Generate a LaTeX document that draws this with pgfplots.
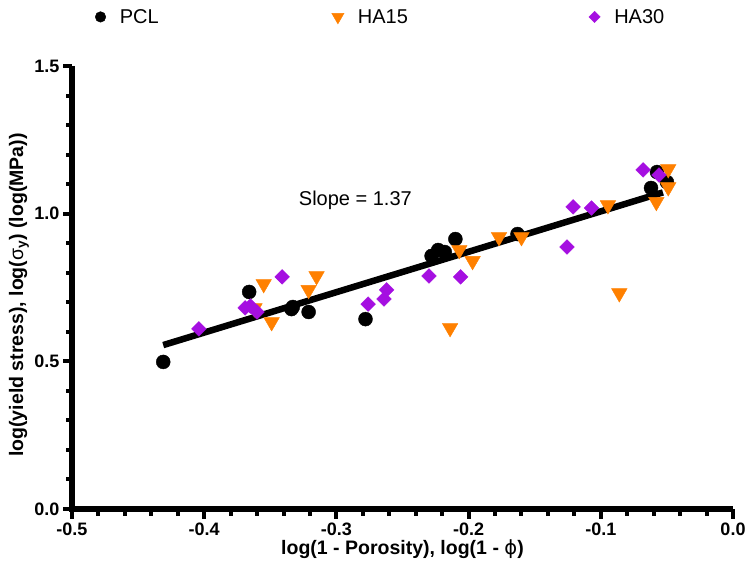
\documentclass[border=0pt]{standalone}
\usepackage{pgfplots}
\pgfplotsset{compat=1.18}
\usetikzlibrary{calc}
\usepackage{fontspec}
\setmainfont{Liberation Sans}
\newfontfamily\dvfont{DejaVu Sans}
\definecolor{ha15}{RGB}{255,128,0}
\definecolor{ha30}{RGB}{165,15,225}
\begin{document}
\begin{tikzpicture}
\begin{axis}[
  scale only axis, width=661pt, height=443pt,
  xmin=-0.5, xmax=0, ymin=0, ymax=1.5,
  axis x line*=bottom, axis y line*=left,
  axis line style={draw=black, -},
  xtick={-0.5,-0.4,-0.3,-0.2,-0.1,0},
  ytick={0,0.5,1,1.5},
  minor x tick num=4, minor y tick num=4,
  tick align=outside,
  major tick length=9pt, minor tick length=6pt,
  tick style={black},
  /pgf/number format/assume math mode=true,
  xticklabel style={/pgf/number format/fixed, /pgf/number format/fixed zerofill, /pgf/number format/precision=1, yshift=-1pt},
  yticklabel style={/pgf/number format/fixed, /pgf/number format/fixed zerofill, /pgf/number format/precision=1},
  tick label style={font=\fontsize{18}{21}\selectfont\bfseries},
  label style={font=\fontsize{19.5}{23}\selectfont\bfseries},
  xlabel={log(1 - Porosity), log(1 - {\dvfont\mdseries ϕ})},
  ylabel={log(yield stress), log({\mdseries σ}\textsubscript{y}) (log(MPa))},
  xlabel style={at={(axis description cs:0.5,-0.0903)}, anchor=center},
  ylabel style={at={(axis description cs:-0.0802,0.483)}, anchor=center, rotate=0},
  legend columns=3,
  legend style={draw=none, fill=none, at={(axis description cs:0.0303,1.1377)}, anchor=north west,
    font=\fontsize{20}{23}\selectfont,
    /tikz/every odd column/.style={column sep=12pt},
    /tikz/every even column/.style={column sep=0pt}},
  clip=false,
]
\addplot[black, line width=6.5pt, forget plot] coordinates {(-0.431,0.555) (-0.053,1.072)};
\addplot[only marks, mark=*, mark size=7pt, black, legend image post style={mark size=5.3pt}] coordinates {
(-0.431,0.498) (-0.366,0.735) (-0.334,0.677) (-0.333,0.684) (-0.321,0.667)
(-0.278,0.643) (-0.228,0.857) (-0.223,0.877) (-0.218,0.870) (-0.210,0.914)
(-0.163,0.931) (-0.0575,1.141) (-0.062,1.087) (-0.050,1.107)
};
\addlegendentry{\makebox[210pt][l]{PCL}}
\addplot[only marks, mark=triangle*, mark size=9pt, mark options={rotate=180, fill=ha15, draw=ha15}, ha15, legend image post style={mark size=7pt}] coordinates {
(-0.355,0.762) (-0.315,0.789) (-0.321,0.742) (-0.349,0.633) (-0.362,0.68)
(-0.207,0.877) (-0.197,0.840) (-0.177,0.921) (-0.160,0.921) (-0.214,0.613)
(-0.0946,1.029) (-0.058,1.040) (-0.049,1.151) (-0.049,1.090) (-0.086,0.731)
};
\addlegendentry{\makebox[229pt][l]{HA15}}
\addplot[only marks, mark=square*, mark size=5.2pt, mark options={rotate=45, fill=ha30, draw=ha30}, ha30, legend image post style={mark size=4pt}] coordinates {
(-0.404,0.610) (-0.341,0.786) (-0.369,0.681) (-0.365,0.687) (-0.360,0.667)
(-0.276,0.694) (-0.262,0.742) (-0.264,0.711) (-0.230,0.789) (-0.206,0.786)
(-0.1256,0.887) (-0.121,1.023) (-0.107,1.019) (-0.068,1.148) (-0.056,1.131)
};
\addlegendentry{HA30}
\node[anchor=west, font=\fontsize{20}{23}\selectfont] at (axis cs:-0.331,1.046) {Slope = 1.37};
\coordinate (O) at (axis cs:-0.5,0);
\coordinate (X) at (axis cs:0,0);
\coordinate (Y) at (axis cs:-0.5,1.5);
\end{axis}
% heavy axis lines and ticks
\draw[line width=5.5pt, line join=miter, black] (Y) -- (O) -- (X);
\foreach \i in {0,...,25}{
  \pgfmathtruncatemacro\m{mod(\i,5)}
  \ifnum\m=0 \def\L{9.5pt}\else\def\L{6.5pt}\fi
  \draw[line width=4pt, black] ($(O)!\i/25!(X)$) -- ++(0,-\L);
}
\foreach \i in {0,...,15}{
  \pgfmathtruncatemacro\m{mod(\i,5)}
  \ifnum\m=0 \def\L{9.5pt}\else\def\L{6.5pt}\fi
  \draw[line width=4pt, black] ($(O)!\i/15!(Y)$) -- ++(-\L,0);
}
\pgfresetboundingbox
\path[use as bounding box] ([shift={(-72pt,-64pt)}]current axis.south west) rectangle ([shift={(17pt,66pt)}]current axis.north east);
\end{tikzpicture}
\end{document}
